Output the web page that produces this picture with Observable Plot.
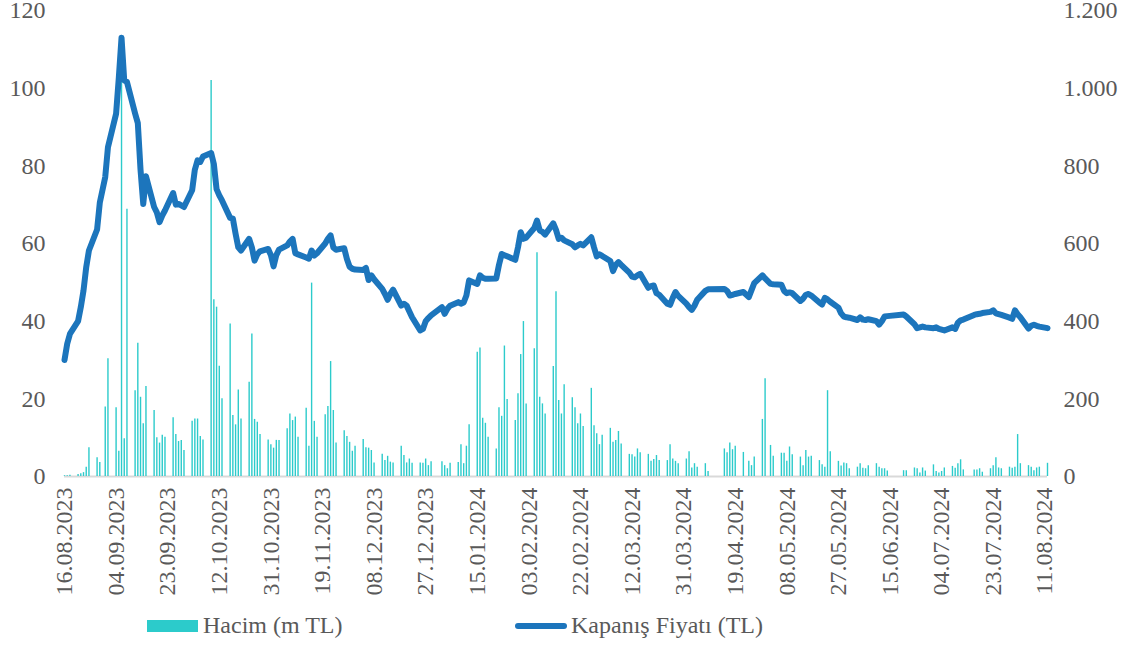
<!DOCTYPE html>
<html>
<head>
<meta charset="utf-8">
<script src="https://cdn.jsdelivr.net/npm/d3@7"></script>
<script src="https://cdn.jsdelivr.net/npm/@observablehq/plot@0.6"></script>
<style>
  html, body { margin: 0; padding: 0; background: #fff; }
  #wrap { position: relative; width: 1129px; height: 646px; overflow: hidden; font-family: "Liberation Serif", "Times New Roman", serif; }
  #legend { position: absolute; left: 0; top: 606px; width: 1129px; height: 40px; color: #595959; font-size: 24px; font-family: "Liberation Serif", "Times New Roman", serif; }
  #legend .item { position: absolute; top: 6px; display: flex; align-items: center; white-space: nowrap; }
  #legend .sw-bar { width: 51px; height: 12px; background: #2ccbcb; margin-right: 5px; }
  #legend .sw-line { width: 52px; height: 6px; border-radius: 3px; background: #1c75bc; margin-right: 4px; }
</style>
</head>
<body>
<div id="wrap">
  <div id="chart"></div>
  <div id="legend">
    <div class="item" style="left:147px"><span class="sw-bar"></span><span id="lg1"></span></div>
    <div class="item" style="left:515px"><span class="sw-line"></span><span id="lg2"></span></div>
  </div>
</div>
<script>
// Series names
const seriesNames = ["Hacim (m TL)", "Kapanış Fiyatı (TL)"];

// Left axis (volume, m TL) and right axis (price, TL) tick values
const volumeTicks = [0, 20, 40, 60, 80, 100, 120];
const priceTicks = [0, 200, 400, 600, 800, 1000, 1200];

// X tick labels
const dateTickLabels = ["16.08.2023","04.09.2023","23.09.2023","12.10.2023","31.10.2023","19.11.2023",
  "08.12.2023","27.12.2023","15.01.2024","03.02.2024","22.02.2024","12.03.2024","31.03.2024",
  "19.04.2024","08.05.2024","27.05.2024","15.06.2024","04.07.2024","23.07.2024","11.08.2024"];

// Daily volume (m TL), grouped by week (Monday date, Mon..Fri; null = no trading)
const volumeWeeks = [
  ["2023-08-14", [null, null, 0.2, 0.2, 0.3]],
  ["2023-08-21", [0.5, 0.7, 1.0, 2.4, 7.4]],
  ["2023-08-28", [4.8, 3.6, null, 17.9, 30.3]],
  ["2023-09-04", [17.7, 6.5, 102, 9.7, 68.8]],
  ["2023-09-11", [22.1, 34.3, 20.4, 13.6, 23.2]],
  ["2023-09-18", [17, 10, 8.6, 10.6, 10.1]],
  ["2023-09-25", [15.1, 10.8, 9, 9.3, 6.7]],
  ["2023-10-02", [14.2, 14.8, 14.8, 10.3, 9.4]],
  ["2023-10-09", [102, 45.5, 43.6, 28.4, 20]],
  ["2023-10-16", [39.3, 15.7, 13.3, 22.3, 14.8]],
  ["2023-10-23", [24.3, 36.7, 14.7, 14, 10.8]],
  ["2023-10-30", [9.4, 8.2, 7.3, 9.3, 9.3]],
  ["2023-11-06", [12.3, 16.1, 14.4, 15.3, 10.1]],
  ["2023-11-13", [17.6, 7.8, 49.8, 14.2, 10.1]],
  ["2023-11-20", [15.9, 18, 29.6, 17, 8.6]],
  ["2023-11-27", [11.8, 10.3, 8.8, 6.5, 7.8]],
  ["2023-12-04", [9.5, 7.4, 7.3, 6.7, 3.5]],
  ["2023-12-11", [5.7, 4.1, 5.2, 3.7, 3.5]],
  ["2023-12-18", [7.8, 5.4, 3.5, 4.5, 3.4]],
  ["2023-12-25", [3.5, 3.4, 4.5, 2.8, 3.8]],
  ["2024-01-01", [null, 3.8, 2.8, 2, 3.4]],
  ["2024-01-08", [3.6, 8.2, 3.3, 7.8, 13.3]],
  ["2024-01-15", [32, 33.1, 15, 13.7, 10.1]],
  ["2024-01-22", [7.1, 17.7, 15.5, 33.6, 19.8]],
  ["2024-01-29", [14.4, 21.3, 31.4, 39.9, 18.7]],
  ["2024-02-05", [32.9, 57.6, 20.4, 18.7, 16.1]],
  ["2024-02-12", [28.3, 47.6, 19.6, 16.1, 23.6]],
  ["2024-02-19", [20.3, 17.7, 13.6, 16.1, 12.9]],
  ["2024-02-26", [22.7, 13.1, 11, 8.2, 10.6]],
  ["2024-03-04", [12.4, 8.8, 9.3, 11.6, 8.4]],
  ["2024-03-11", [5.7, 5.6, 5, 7.1, 6.1]],
  ["2024-03-18", [5.7, 3.9, 4.4, 5.4, 4.1]],
  ["2024-03-25", [4.1, 8.2, 4.5, 3.9, 3.3]],
  ["2024-04-01", [4.5, 6.4, 2.2, 3.3, 2.4]],
  ["2024-04-08", [3.3, 1.3, null, null, null]],
  ["2024-04-15", [7.1, 6.1, 8.6, 6.9, 7.8]],
  ["2024-04-22", [6.2, null, 3.9, 2.8, 5]],
  ["2024-04-29", [14.7, 25.2, null, 8, 5.2]],
  ["2024-05-06", [6, 6, 3.9, 7.6, 5.6]],
  ["2024-05-13", [5, 2.8, 6.7, 5, 5.2]],
  ["2024-05-20", [4.1, 3, 2.4, 22.1, 6.4]],
  ["2024-05-27", [3.9, 2.7, 3.5, 3.3, 2]],
  ["2024-06-03", [2.4, 3.3, 2.1, 2, 2.8]],
  ["2024-06-10", [3.3, 2.4, 2, 2, 1.4]],
  ["2024-06-17", [null, null, null, 1.5, 1.5]],
  ["2024-06-24", [2.2, 2, 0.9, 2.2, 1.4]],
  ["2024-07-01", [3, 1.3, 0.9, 1.3, 2.2]],
  ["2024-07-08", [2.6, 2.1, 3.3, 4.3, 1.7]],
  ["2024-07-15", [null, 1.7, 1.7, 2, 1.1]],
  ["2024-07-22", [2, 2.8, 4.8, 2.2, 2]],
  ["2024-07-29", [2.4, 2.1, 2.4, 10.8, 3.3]],
  ["2024-08-05", [2.8, 2.4, 1.5, 2.2, 2.4]],
  ["2024-08-12", [3.4]]
];

// Daily closing price (TL), grouped by week (Monday date, Mon..Fri; null = no trading)
const priceWeeks = [
  ["2023-08-14", [null, null, 300, 342, 367]],
  ["2023-08-21", [400, 436, 479, 539, 582]],
  ["2023-08-28", [636, 705, null, 771, 848]],
  ["2023-09-04", [934, 1027, 1130, 1020, 1016]],
  ["2023-09-11", [935, 910, 790, 702, 773]],
  ["2023-09-18", [694, 680, 655, 672, 685]],
  ["2023-09-25", [730, 700, 702, 698, 694]],
  ["2023-10-02", [737, 790, 814, 810, 824]],
  ["2023-10-09", [833, 805, 740, 724, 711]],
  ["2023-10-16", [666, 664, 625, 590, 582]],
  ["2023-10-23", [612, 590, 556, 572, 580]],
  ["2023-10-30", [586, 570, 541, 570, 584]],
  ["2023-11-06", [595, 605, 612, 575, 572]],
  ["2023-11-13", [564, 561, 582, 569, 575]],
  ["2023-11-20", [600, 612, 621, 590, 584]],
  ["2023-11-27", [588, 560, 540, 535, 533]],
  ["2023-12-04", [532, 537, 506, 518, 508]],
  ["2023-12-11", [483, 470, 455, 470, 481]],
  ["2023-12-18", [440, 445, 440, 425, 410]],
  ["2023-12-25", [376, 380, 400, 408, 415]],
  ["2024-01-01", [null, 436, 419, 432, 440]],
  ["2024-01-08", [449, 445, 448, 466, 505]],
  ["2024-01-15", [496, 518, 512, 509, 509]],
  ["2024-01-22", [510, 545, 573, 570, 567]],
  ["2024-01-29", [558, 590, 629, 612, 615]],
  ["2024-02-05", [640, 659, 634, 630, 623]],
  ["2024-02-12", [652, 635, 612, 615, 608]],
  ["2024-02-19", [598, 590, 595, 599, 595]],
  ["2024-02-26", [616, 590, 567, 572, 568]],
  ["2024-03-04", [555, 529, 545, 552, 545]],
  ["2024-03-11", [525, 515, 513, 518, 522]],
  ["2024-03-18", [486, 490, 492, 472, 468]],
  ["2024-03-25", [445, 442, 460, 475, 465]],
  ["2024-04-01", [445, 436, 429, 440, 455]],
  ["2024-04-08", [478, 482, null, null, null]],
  ["2024-04-15", [483, 478, 466, 468, 470]],
  ["2024-04-22", [475, null, 462, 480, 498]],
  ["2024-04-29", [518, 510, null, 496, 495]],
  ["2024-05-06", [494, 478, 472, 474, 472]],
  ["2024-05-13", [452, 458, 468, 470, 466]],
  ["2024-05-20", [448, 443, 460, 456, 450]],
  ["2024-05-27", [435, 420, 412, 410, 409]],
  ["2024-06-03", [403, 410, 404, 403, 405]],
  ["2024-06-10", [400, 391, 400, 412, 413]],
  ["2024-06-17", [null, null, null, 417, 412]],
  ["2024-06-24", [392, 382, 384, 386, 384]],
  ["2024-07-01", [382, 384, 380, 378, 376]],
  ["2024-07-08", [384, 380, 396, 402, 404]],
  ["2024-07-15", [null, 416, 418, 419, 421]],
  ["2024-07-22", [424, 428, 420, 418, 416]],
  ["2024-07-29", [409, 406, 428, 418, 410]],
  ["2024-08-05", [381, 388, 391, 388, 386]],
  ["2024-08-12", [382]]
];

const DAY = 864e5;
function expand(weeks) {
  const out = [];
  for (const [monday, vals] of weeks) {
    const t = Date.parse(monday + "T00:00:00Z");
    vals.forEach((v, i) => { if (v != null) out.push({ date: new Date(t + i * DAY), value: v }); });
  }
  return out;
}
function parseTR(s) {
  const [d, m, y] = s.split(".").map(Number);
  return new Date(Date.UTC(y, m - 1, d));
}

const volume = expand(volumeWeeks);
const price = expand(priceWeeks);
const xTicks = dateTickLabels.map(parseTR);
const tickLabel = new Map(xTicks.map((d, i) => [+d, dateTickLabels[i]]));

const trLocale = d3.formatLocale({ decimal: ",", thousands: ".", grouping: [3], currency: ["", " TL"] });
const fmtPrice = trLocale.format(",d");

const ratio = priceTicks[priceTicks.length - 1] / volumeTicks[volumeTicks.length - 1];
const xStart = parseTR("16.08.2023");
const xEnd = new Date(price[price.length - 1].date);

const gray = "#595959";
const FS = 24;

const chart = Plot.plot({
  width: 1129,
  height: 606,
  marginLeft: 64,
  marginRight: 82,
  marginTop: 10,
  marginBottom: 130,
  style: { fontFamily: "Liberation Serif, Times New Roman, serif", fontSize: FS + "px", color: gray, background: "#fff", overflow: "visible" },
  x: { type: "utc", domain: [xStart, xEnd] },
  y: { domain: [volumeTicks[0], volumeTicks[volumeTicks.length - 1]] },
  marks: [
    Plot.ruleY([0], { stroke: "#d9d9d9", strokeWidth: 2 }),
    Plot.ruleX(volume, { x: "date", y: "value", stroke: "#2ccbcb", strokeWidth: 1.4 }),
    Plot.line(price, { x: "date", y: d => d.value / ratio, stroke: "#1c75bc", strokeWidth: 6, strokeLinejoin: "round", strokeLinecap: "round" }),
    Plot.axisY(volumeTicks, { anchor: "left", tickSize: 0, tickPadding: 19, label: null, fill: gray, fontSize: FS }),
    Plot.axisY(volumeTicks, { anchor: "right", tickSize: 0, tickPadding: 16, label: null, fill: gray, fontSize: FS,
      tickFormat: d => fmtPrice(Math.round(d * ratio)) }),
    Plot.axisX(xTicks, { anchor: "bottom", tickSize: 0, tickPadding: 11, tickRotate: -90, label: null, fill: gray, fontSize: FS,
      tickFormat: d => tickLabel.get(+d) })
  ]
});
document.getElementById("chart").appendChild(chart);
document.getElementById("lg1").textContent = seriesNames[0];
document.getElementById("lg2").textContent = seriesNames[1];
</script>
</body>
</html>
